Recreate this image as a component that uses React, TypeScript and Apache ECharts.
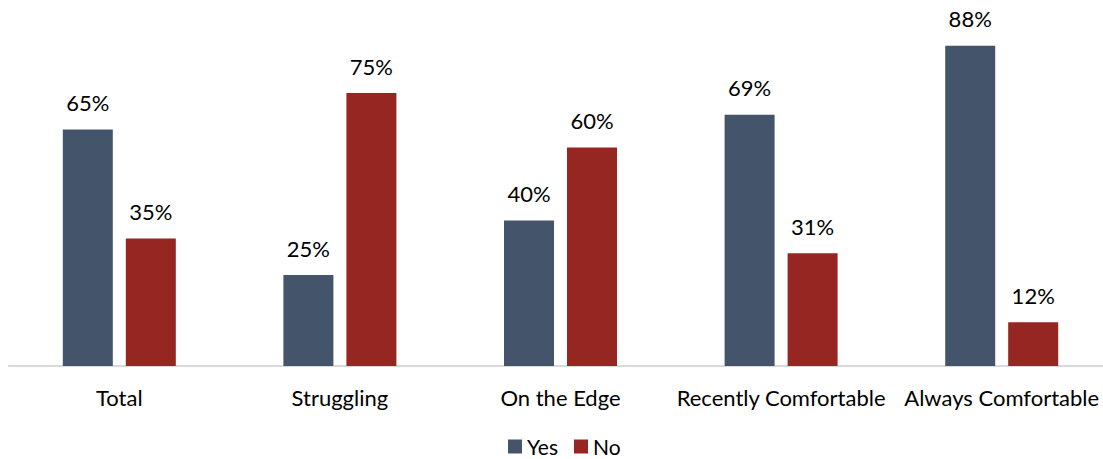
import React, { useEffect, useRef } from "react";
import * as echarts from "echarts";

const categories = ["Total", "Struggling", "On the Edge", "Recently Comfortable", "Always Comfortable"];
const yesValues = [65, 25, 40, 69, 88];
const noValues = [35, 75, 60, 31, 12];
const seriesNames = ["Yes", "No"];

const FONT = "Lato";

export default function App() {
  const ref = useRef<HTMLDivElement>(null);
  useEffect(() => {
    const chart = echarts.init(ref.current!, null, { renderer: "svg" });
    const label = {
      show: true,
      position: "top" as const,
      distance: 16,
      formatter: "{c}%",
      color: "#000",
      fontFamily: FONT,
      fontSize: 22,
    };
    chart.setOption({
      animation: false,
      textStyle: { fontFamily: FONT },
      grid: { left: 9, top: 2, width: 1103, bottom: 93, containLabel: false },
      legend: {
        data: seriesNames,
        top: 436,
        left: 508,
        padding: 0,
        itemWidth: 14,
        itemHeight: 14,
        itemGap: 16,
        icon: "rect",
        textStyle: { fontFamily: FONT, fontSize: 21, color: "#000" },
      },
      xAxis: {
        type: "category",
        data: categories,
        axisLine: { lineStyle: { color: "#d9d9d9", width: 2 } },
        axisTick: { show: false },
        axisLabel: { color: "#000", fontFamily: FONT, fontSize: 22, margin: 20, interval: 0 },
      },
      yAxis: {
        type: "value",
        min: 0,
        max: 100,
        show: false,
        splitLine: { show: false },
      },
      series: [
        {
          name: seriesNames[0],
          type: "bar",
          data: yesValues,
          barWidth: 50,
          barGap: "26%",
          itemStyle: { color: "#44546a" },
          label,
        },
        {
          name: seriesNames[1],
          type: "bar",
          data: noValues,
          barWidth: 50,
          itemStyle: { color: "#952622" },
          label,
        },
      ],
    });
    return () => chart.dispose();
  }, []);
  return (
    <div
      style={{ position: "fixed", left: 0, top: 0, width: 1103, height: 459, overflow: "hidden", background: "#fff" }}
    >
      <div ref={ref} style={{ width: 1130, height: 459 }} />
    </div>
  );
}
